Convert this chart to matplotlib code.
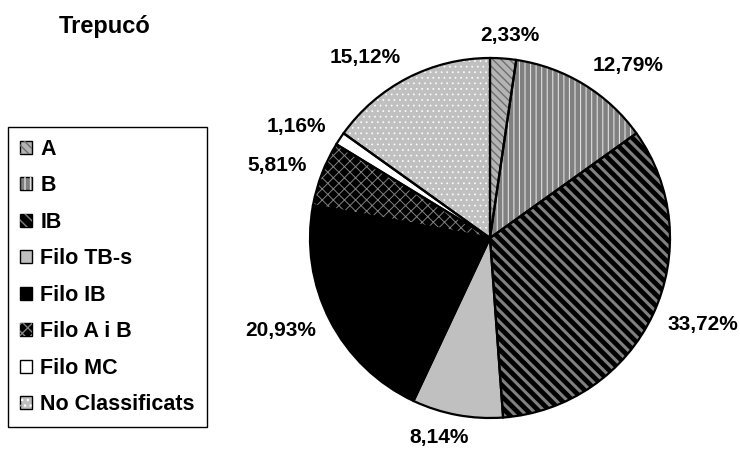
import numpy as np
import matplotlib as mpl
import matplotlib.pyplot as plt
from matplotlib.patches import Patch, Wedge
from matplotlib.legend_handler import HandlerTuple

plt.rcParams["font.family"] = ["Liberation Sans", "DejaVu Sans"]
plt.rcParams["font.weight"] = "bold"

categories = ["A", "B", "IB", "Filo TB-s", "Filo IB", "Filo A i B",
              "Filo MC", "No Classificats"]
shares = [2.33, 12.79, 33.72, 8.14, 20.93, 5.81, 1.16, 15.12]

# fill + hatch pattern for each slice (grayscale print style)
faces = ["#b4b4b4", "#808080", "#000000", "#c0c0c0",
         "#000000", "#000000", "#ffffff", "#c0c0c0"]
hatches = ["\\\\\\\\", "|||", "\\\\\\", None, None, "xxx", None, "..."]
hatch_colors = ["#6e6e6e", "#e0e0e0", "#808080", None,
                None, "#808080", None, "#ffffff"]
hatch_widths = [1.0, 0.8, 2.2, 1.0, 1.0, 0.7, 1.0, 0.5]

W, H = 740, 453
fig = plt.figure(figsize=(W / 100, H / 100), dpi=100)

cx, cy, r = 490, 238, 180
half = 1.25 * r
ax = fig.add_axes([(cx - half) / W, (H - cy - half) / H, 2 * half / W, 2 * half / H])

wedges, _, pct_texts = ax.pie(
    shares, colors=faces, startangle=90, counterclock=False,
    autopct=lambda p: f"{p:.2f}%".replace(".", ","), pctdistance=1.2,
    wedgeprops=dict(edgecolor="none", linewidth=0),
    textprops=dict(fontsize=15, fontweight="bold", ha="center", va="center"),
)
ax.set_xlim(-1.25, 1.25)
ax.set_ylim(-1.25, 1.25)

for w, h, hc, hw in zip(wedges, hatches, hatch_colors, hatch_widths):
    if h:
        with mpl.rc_context({"hatch.linewidth": hw}):
            ax.add_patch(Wedge(w.center, w.r, w.theta1, w.theta2, fill=False,
                               hatch=h, edgecolor=hc, linewidth=0, zorder=2))
    ax.add_patch(Wedge(w.center, w.r, w.theta1, w.theta2, fill=False,
                       edgecolor="black", linewidth=1.6, zorder=3))

# place each value label just outside the rim, pushed out by its own box size
renderer = fig.canvas.get_renderer()
gap = 16  # px between rim and label box
for w, t in zip(wedges, pct_texts):
    bb = t.get_window_extent(renderer)
    a = np.deg2rad((w.theta1 + w.theta2) / 2)
    c, s = np.cos(a), np.sin(a)
    dx = (r + gap) * c + bb.width / 2 * np.clip(2.75 * c, -1, 1)
    dy = (r + gap) * s + bb.height * 0.35 * s
    t.set_position((dx / r, dy / r))

handles = []
for f, h, hc, hw in zip(faces, hatches, hatch_colors, hatch_widths):
    base = Patch(facecolor=f, edgecolor="black", linewidth=1)
    if h:
        with mpl.rc_context({"hatch.linewidth": min(hw, 1.0)}):
            handles.append((base, Patch(fill=False, hatch=h, edgecolor=hc, linewidth=0)))
    else:
        handles.append((base,))

leg = fig.legend(handles, categories, loc="upper left",
                 bbox_to_anchor=(8 / W, 1 - 127 / H), borderaxespad=0,
                 handler_map={tuple: HandlerTuple(ndivide=1)},
                 prop=dict(size=15.5, weight="bold"),
                 handlelength=0.55, handleheight=0.55, handletextpad=0.4,
                 labelspacing=0.72, borderpad=0.55, fancybox=False,
                 edgecolor="black", framealpha=1)
leg.get_frame().set_linewidth(1)

fig.text(105 / W, 1 - 27 / H, "Trepucó", ha="center", va="center",
         fontsize=17, fontweight="bold")

fig.savefig("out.png", dpi=100)
